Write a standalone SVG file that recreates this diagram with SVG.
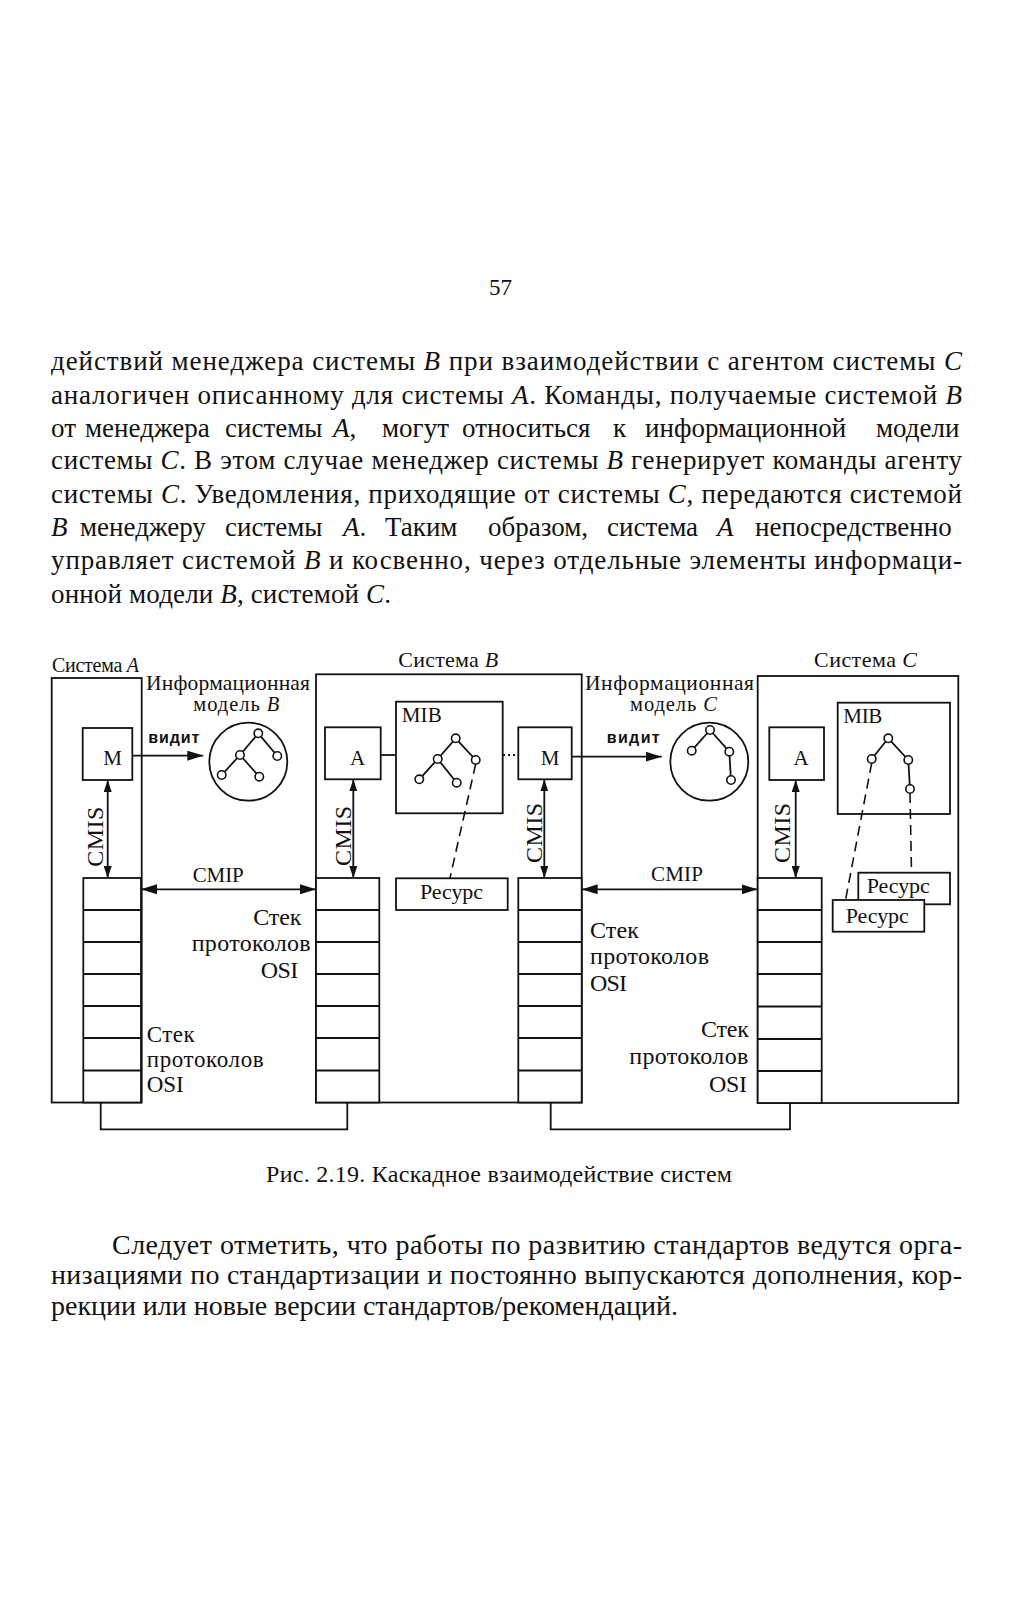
<svg xmlns="http://www.w3.org/2000/svg" width="1016" height="1600" viewBox="0 0 1016 1600">
<style>
.ln{stroke:#111;stroke-width:1.8;fill:none}
.bx{stroke:#111;stroke-width:1.8;fill:#fff}
.ds{stroke:#111;stroke-width:1.6;fill:none;stroke-dasharray:10 6}
.dt{stroke:#111;stroke-width:1.8;fill:none;stroke-dasharray:2 3}
.nd{stroke:#111;stroke-width:1.6;fill:#fff}
.t{font-family:"Liberation Serif","Times New Roman",serif;fill:#111}
.b{font-size:27px}
.d{font-size:21px}
.s{font-size:24px}
.v{font-family:"Liberation Sans",Arial,sans-serif;font-weight:bold;font-size:16px;fill:#111}
.i{font-style:italic}
</style>
<defs>
<marker id="ah" viewBox="0 0 16 10" refX="16" refY="5" markerWidth="16" markerHeight="10" markerUnits="userSpaceOnUse" orient="auto-start-reverse"><path d="M0,0 L16,5 L0,10 z" fill="#111"/></marker>
<marker id="as" viewBox="0 0 12 8" refX="12" refY="4" markerWidth="12" markerHeight="8" markerUnits="userSpaceOnUse" orient="auto-start-reverse"><path d="M0,0 L12,4 L0,8 z" fill="#111"/></marker>
</defs>
<rect width="1016" height="1600" fill="#fff"/>

<text class="t" x="489" y="295" font-size="23" textLength="23">57</text>

<g id="body-text" class="t b">
<text x="51" y="370" textLength="911">действий менеджера системы <tspan class="i">B</tspan> при взаимодействии с агентом системы <tspan class="i">C</tspan></text>
<text x="51" y="404" textLength="911">аналогичен описанному для системы <tspan class="i">A</tspan>. Команды, получаемые системой <tspan class="i">B</tspan></text>
<text y="436.5"><tspan x="51">от</tspan><tspan x="85">менеджера</tspan><tspan x="225">системы</tspan><tspan x="333" class="i">A</tspan><tspan>,</tspan><tspan x="382">могут</tspan><tspan x="462">относиться</tspan><tspan x="613">к</tspan><tspan x="645">информационной</tspan><tspan x="876">модели</tspan></text>
<text x="51" y="469" textLength="911">системы <tspan class="i">C</tspan>. В этом случае менеджер системы <tspan class="i">B</tspan> генерирует команды агенту</text>
<text x="51" y="503" textLength="911">системы <tspan class="i">C</tspan>. Уведомления, приходящие от системы <tspan class="i">C</tspan>, передаются системой</text>
<text y="536.4"><tspan x="51" class="i">B</tspan><tspan x="80">менеджеру</tspan><tspan x="225">системы</tspan><tspan x="343" class="i">A</tspan><tspan>.</tspan><tspan x="385">Таким</tspan><tspan x="488">образом,</tspan><tspan x="607">система</tspan><tspan x="717" class="i">A</tspan><tspan x="755">непосредственно</tspan></text>
<text x="51" y="569" textLength="911">управляет системой <tspan class="i">B</tspan> и косвенно, через отдельные элементы информаци-</text>
<text x="51" y="602.7" textLength="340">онной модели <tspan class="i">B</tspan>, системой <tspan class="i">C</tspan>.</text>
</g>

<g id="system-A">
<rect class="bx" x="51.7" y="678" width="90" height="424.5"/>
<text class="t" x="52" y="671.7" font-size="20" textLength="87">Система <tspan class="i">A</tspan></text>
</g>
<g id="system-B">
<rect class="bx" x="316" y="674.3" width="265.7" height="428.2"/>
<text class="t" x="398.3" y="667.3" font-size="22" textLength="100">Система <tspan class="i">B</tspan></text>
</g>
<g id="system-C">
<rect class="bx" x="757.7" y="676" width="200.6" height="427"/>
<text class="t" x="814" y="667.3" font-size="22" textLength="103">Система <tspan class="i">C</tspan></text>
</g>

<g id="manager-A">
<rect class="bx" x="82.7" y="728" width="49.6" height="52"/>
<text class="t d" x="112.5" y="765" text-anchor="middle">M</text>
</g>
<g id="agent-B">
<rect class="bx" x="325" y="727.3" width="55.7" height="52"/>
<text class="t d" x="357.5" y="765" text-anchor="middle">A</text>
</g>
<g id="manager-B">
<rect class="bx" x="518.3" y="727.3" width="53.4" height="52"/>
<text class="t d" x="550" y="765" text-anchor="middle">M</text>
</g>
<g id="agent-C">
<rect class="bx" x="769.3" y="727.3" width="54.7" height="52.7"/>
<text class="t d" x="801" y="765" text-anchor="middle">A</text>
</g>

<g id="mib-B">
<rect class="bx" x="396" y="701.7" width="106.7" height="111.6"/>
<text class="t d" x="401.7" y="721.7" textLength="40">MIB</text>
<path class="ln" d="M455.7,738.3 L437.7,759 M455.7,738.3 L475.7,760 M437.7,759 L419.3,779.3 M437.7,759 L456.7,782.7"/>
<circle class="nd" cx="455.7" cy="738.3" r="4.2"/><circle class="nd" cx="437.7" cy="759" r="4.2"/><circle class="nd" cx="475.7" cy="760" r="4.2"/><circle class="nd" cx="419.3" cy="779.3" r="4.2"/><circle class="nd" cx="456.7" cy="782.7" r="4.2"/>
</g>
<g id="mib-C">
<rect class="bx" x="837.7" y="702.7" width="112.3" height="111.3"/>
<text class="t d" x="843.3" y="723" textLength="39">MIB</text>
<path class="ln" d="M888.3,738.3 L871.7,759 M888.3,738.3 L908.3,760 M908.3,760 L910,789"/>
<circle class="nd" cx="888.3" cy="738.3" r="4.2"/><circle class="nd" cx="871.7" cy="759" r="4.2"/><circle class="nd" cx="908.3" cy="760" r="4.2"/><circle class="nd" cx="910" cy="789" r="4.2"/>
</g>

<g id="info-model-B">
<text class="t" x="146" y="690" font-size="21.5" textLength="164">Информационная</text>
<text class="t" x="193.3" y="711" font-size="20.5" textLength="86">модель <tspan class="i">B</tspan></text>
<circle class="ln" cx="248.3" cy="761.7" r="39"/>
<path class="ln" d="M258.3,733.3 L240,755 M258.3,733.3 L277.3,756 M240,755 L221.7,775 M240,755 L259.3,776.7"/>
<circle class="nd" cx="258.3" cy="733.3" r="4.2"/><circle class="nd" cx="240" cy="755" r="4.2"/><circle class="nd" cx="277.3" cy="756" r="4.2"/><circle class="nd" cx="221.7" cy="775" r="4.2"/><circle class="nd" cx="259.3" cy="776.7" r="4.2"/>
</g>
<g id="info-model-C">
<text class="t" x="585" y="690" font-size="21.5" textLength="169">Информационная</text>
<text class="t" x="630" y="711" font-size="20.5" textLength="87">модель <tspan class="i">C</tspan></text>
<circle class="ln" cx="709.3" cy="761.7" r="39"/>
<path class="ln" d="M710,730 L691.7,750.7 M710,730 L729.3,751.7 M729.3,751.7 L731,780"/>
<circle class="nd" cx="710" cy="730" r="4.2"/><circle class="nd" cx="691.7" cy="750.7" r="4.2"/><circle class="nd" cx="729.3" cy="751.7" r="4.2"/><circle class="nd" cx="731" cy="780" r="4.2"/>
</g>

<g id="resource-B">
<rect class="bx" x="396" y="878.3" width="111.7" height="31.7"/>
<text class="t" x="420" y="899" font-size="22" textLength="63">Ресурс</text>
</g>
<g id="resource-C2">
<rect class="bx" x="858.3" y="872.7" width="91.7" height="31.6"/>
<text class="t" x="866.7" y="893" font-size="22" textLength="63">Ресурс</text>
</g>
<g id="resource-C1">
<rect class="bx" x="832.7" y="900" width="91.6" height="31.7"/>
<text class="t" x="845.7" y="923.3" font-size="22" textLength="63">Ресурс</text>
</g>

<g id="stack-A">
<rect class="bx" x="83.3" y="878" width="57.7" height="224.5"/>
<path class="ln" d="M83.3,910H141M83.3,942H141M83.3,974H141M83.3,1006H141M83.3,1038H141M83.3,1070.5H141"/>
</g>
<g id="stack-B1">
<rect class="bx" x="316" y="878" width="63.3" height="224.5"/>
<path class="ln" d="M316,910H379.3M316,942H379.3M316,974H379.3M316,1006H379.3M316,1038H379.3M316,1070.5H379.3"/>
</g>
<g id="stack-B2">
<rect class="bx" x="518.3" y="878" width="63.4" height="224.5"/>
<path class="ln" d="M518.3,910H581.7M518.3,942H581.7M518.3,974H581.7M518.3,1006H581.7M518.3,1038H581.7M518.3,1070.5H581.7"/>
</g>
<g id="stack-C">
<rect class="bx" x="757.7" y="878" width="64" height="225"/>
<path class="ln" d="M757.7,910H821.7M757.7,942H821.7M757.7,974H821.7M757.7,1006.5H821.7M757.7,1039H821.7M757.7,1071H821.7"/>
</g>

<g id="stack-labels" class="t s">
<text x="253.3" y="925" textLength="48">Стек</text>
<text x="191.7" y="951" textLength="119">протоколов</text>
<text x="260.7" y="978" textLength="37.6">OSI</text>
<text x="146.7" y="1042" font-size="23" textLength="48">Стек</text>
<text x="146.7" y="1067" font-size="23" textLength="117">протоколов</text>
<text x="146.7" y="1092" font-size="23" textLength="37">OSI</text>
<text x="590" y="938" textLength="49">Стек</text>
<text x="590" y="964" textLength="119">протоколов</text>
<text x="590" y="991" textLength="37">OSI</text>
<text x="701" y="1037" textLength="48">Стек</text>
<text x="629.3" y="1064" textLength="119">протоколов</text>
<text x="709" y="1092" textLength="38">OSI</text>
</g>

<g id="connectors">
<line class="ln" x1="132.3" y1="755.7" x2="203.3" y2="755.7" marker-end="url(#ah)"/>
<line class="ln" x1="571.7" y1="756.7" x2="661.7" y2="756.7" marker-end="url(#ah)"/>
<line class="ln" x1="380.7" y1="755" x2="396" y2="755"/>
<line class="dt" x1="503" y1="755" x2="518" y2="755"/>
<line class="ln" x1="107.7" y1="780" x2="107.7" y2="878" marker-start="url(#as)" marker-end="url(#as)"/>
<line class="ln" x1="353.3" y1="779.3" x2="353.3" y2="878" marker-start="url(#as)" marker-end="url(#as)"/>
<line class="ln" x1="544.3" y1="779.3" x2="544.3" y2="878" marker-start="url(#as)" marker-end="url(#as)"/>
<line class="ln" x1="795.7" y1="780" x2="795.7" y2="878" marker-start="url(#as)" marker-end="url(#as)"/>
<line class="ln" x1="141" y1="889.3" x2="316" y2="889.3" marker-start="url(#ah)" marker-end="url(#ah)"/>
<line class="ln" x1="581.7" y1="889.3" x2="757.7" y2="889.3" marker-start="url(#ah)" marker-end="url(#ah)"/>
<line class="ds" x1="475.7" y1="764" x2="450" y2="878"/>
<line class="ds" x1="871.7" y1="763" x2="845.7" y2="899"/>
<line class="ds" x1="910" y1="793" x2="911.5" y2="872.7"/>
<path class="ln" d="M100.7,1102.5V1129.3H347.3V1102.5"/>
<path class="ln" d="M550.7,1102.5V1129.3H790V1102.5"/>
<text class="v" x="148.3" y="743" textLength="51">видит</text>
<text class="v" x="606.7" y="743" textLength="53">видит</text>
<text class="t d" x="192.7" y="881.7" textLength="51">CMIP</text>
<text class="t d" x="651" y="881" textLength="52">CMIP</text>
<text class="t s" transform="translate(103,836.7) rotate(-90)" text-anchor="middle" textLength="60">CMIS</text>
<text class="t s" transform="translate(351,836) rotate(-90)" text-anchor="middle" textLength="60">CMIS</text>
<text class="t s" transform="translate(541.5,833) rotate(-90)" text-anchor="middle" textLength="60">CMIS</text>
<text class="t s" transform="translate(790,833) rotate(-90)" text-anchor="middle" textLength="60">CMIS</text>
</g>

<text class="t" x="266" y="1182" font-size="24" textLength="466">Рис. 2.19. Каскадное взаимодействие систем</text>

<g id="bottom-text" class="t" font-size="28">
<text x="112" y="1254" textLength="850">Следует отметить, что работы по развитию стандартов ведутся орга-</text>
<text x="51" y="1284" textLength="911">низациями по стандартизации и постоянно выпускаются дополнения, кор-</text>
<text x="51" y="1315" textLength="627">рекции или новые версии стандартов/рекомендаций.</text>
</g>
</svg>
